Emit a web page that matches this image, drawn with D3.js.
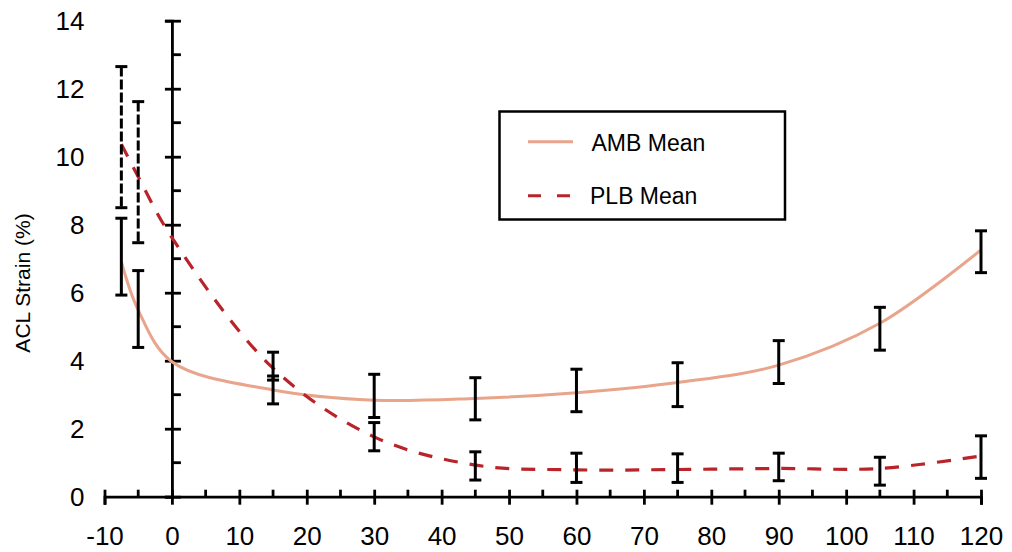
<!DOCTYPE html>
<html>
<head>
<meta charset="utf-8">
<script src="https://cdn.jsdelivr.net/npm/d3@7"></script>
<style>
  html, body { margin: 0; padding: 0; background: #fff; }
  svg { display: block; font-family: "Liberation Sans", Arial, Helvetica, sans-serif; }
</style>
</head>
<body>
<div id="chart"></div>
<script>
// Time points (x) and strain readings (%)
const timeX = [-7.5, -5, 0, 15, 30, 45, 60, 75, 90, 105, 120];

const ambMean = [6.91, 5.49, 3.97, 3.14, 2.84, 2.89, 3.06, 3.36, 3.87, 5.10, 7.26];
const ambHi   = [8.19, 6.65, null, 3.55, 3.60, 3.50, 3.75, 3.94, 4.59, 5.57, 7.82];
const ambLo   = [5.93, 4.39, null, 2.73, 2.33, 2.26, 2.50, 2.65, 3.33, 4.31, 6.59];

const plbMean = [10.37, 9.41, 7.62, 3.78, 1.76, 0.93, 0.79, 0.80, 0.83, 0.83, 1.20];
const plbHi   = [12.65, 11.62, null, 4.25, 2.18, 1.32, 1.28, 1.26, 1.28, 1.16, 1.79];
const plbLo   = [8.50, 7.47, null, 3.43, 1.35, 0.49, 0.42, 0.42, 0.47, 0.34, 0.54];

const xMajor = d3.range(-10, 121, 10);
const xMinor = d3.range(-5, 120, 10);
const yMajor = d3.range(0, 15, 2);
const yMinor = d3.range(1, 14, 2);

const seriesNames = ["AMB Mean", "PLB Mean"];

const width = 1012, height = 552;
const ambColor = "#e9a58c";
const plbColor = "#b8242a";

const svg = d3.select("#chart").append("svg")
  .attr("width", width)
  .attr("height", height);

const x = d3.scaleLinear().domain([-10, 120]).range([104.5, 981]);
const y = d3.scaleLinear().domain([0, 14]).range([496.7, 20.7]);

// --- x axis (at y = 0) ---
const xAxis = svg.append("g")
  .attr("transform", `translate(0,${y(0)})`)
  .call(d3.axisBottom(x).tickValues(xMajor).tickSizeOuter(0).tickSize(8)
    .tickFormat(d => String(d)));
xAxis.select(".domain").attr("stroke-width", 2.8);
xAxis.selectAll(".tick line").attr("y1", -7).attr("y2", 8).attr("stroke-width", 2.8);
xAxis.selectAll(".tick text")
  .attr("y", 29.5).attr("dy", "0.71em")
  .style("font-size", "26px").attr("fill", "#000");
xAxis.selectAll(".minor")
  .data(xMinor).join("line")
  .attr("class", "minor")
  .attr("x1", d => x(d)).attr("x2", d => x(d))
  .attr("y1", -7).attr("y2", 0)
  .attr("stroke", "#000").attr("stroke-width", 2.8);

// --- y axis (at x = 0) ---
const yAxis = svg.append("g")
  .attr("transform", `translate(${x(0)},0)`)
  .call(d3.axisLeft(y).tickValues(yMajor).tickSizeOuter(0).tickSize(7)
    .tickFormat(d => String(d)));
yAxis.select(".domain").attr("stroke-width", 2.8);
yAxis.selectAll(".tick line").attr("x1", -7).attr("x2", 9).attr("stroke-width", 2.8);
yAxis.selectAll(".tick text")
  .attr("x", -(x(0) - 84.5)).attr("dy", "0.35em")
  .attr("text-anchor", "end")
  .style("font-size", "26px").attr("fill", "#000");
yAxis.selectAll(".minor")
  .data(yMinor).join("line")
  .attr("class", "minor")
  .attr("y1", d => y(d)).attr("y2", d => y(d))
  .attr("x1", 0).attr("x2", 9)
  .attr("stroke", "#000").attr("stroke-width", 2.8);

svg.append("text")
  .attr("transform", "translate(30,283) rotate(-90)")
  .attr("text-anchor", "middle")
  .style("font-size", "21px")
  .text("ACL Strain (%)");

// --- mean curves ---
const line = d3.line()
  .x((d, i) => x(timeX[i]))
  .y(d => y(d))
  .curve(d3.curveCatmullRom.alpha(0.5));

svg.append("path")
  .attr("d", line(ambMean))
  .attr("fill", "none")
  .attr("stroke", ambColor)
  .attr("stroke-width", 3);

svg.append("path")
  .attr("d", line(plbMean))
  .attr("fill", "none")
  .attr("stroke", plbColor)
  .attr("stroke-width", 3.2)
  .attr("stroke-dasharray", "14,12");

// --- error bars ---
function drawBars(hi, lo, dashedEarly) {
  const data = timeX.map((t, i) => ({ t, hi: hi[i], lo: lo[i] }))
    .filter(d => d.hi != null);
  const g = svg.append("g").attr("stroke", "#000").attr("stroke-width", 3);
  g.selectAll(".bar").data(data).join("line")
    .attr("x1", d => x(d.t)).attr("x2", d => x(d.t))
    .attr("y1", d => y(d.hi)).attr("y2", d => y(d.lo))
    .attr("stroke-dasharray", d => dashedEarly && d.t < 0 ? "10,3" : null);
  ["hi", "lo"].forEach(k => {
    g.selectAll(".cap-" + k).data(data).join("line")
      .attr("x1", d => x(d.t) - 6).attr("x2", d => x(d.t) + 6)
      .attr("y1", d => y(d[k])).attr("y2", d => y(d[k]));
  });
}
drawBars(ambHi, ambLo, false);
drawBars(plbHi, plbLo, true);

// --- legend ---
const legend = svg.append("g");
legend.append("rect")
  .attr("x", 499.5).attr("y", 111.5)
  .attr("width", 285.5).attr("height", 108)
  .attr("fill", "#fff").attr("stroke", "#000").attr("stroke-width", 2.5);
legend.append("line")
  .attr("x1", 528).attr("x2", 573).attr("y1", 141.7).attr("y2", 141.7)
  .attr("stroke", ambColor).attr("stroke-width", 3);
legend.append("line")
  .attr("x1", 528).attr("x2", 571).attr("y1", 195.7).attr("y2", 195.7)
  .attr("stroke", plbColor).attr("stroke-width", 3)
  .attr("stroke-dasharray", "13,16");
legend.selectAll(".ltext").data(seriesNames).join("text")
  .attr("x", (d, i) => i === 0 ? 591.5 : 590)
  .attr("y", (d, i) => i === 0 ? 150.7 : 204)
  .style("font-size", "23px")
  .text(d => d);
</script>
</body>
</html>
